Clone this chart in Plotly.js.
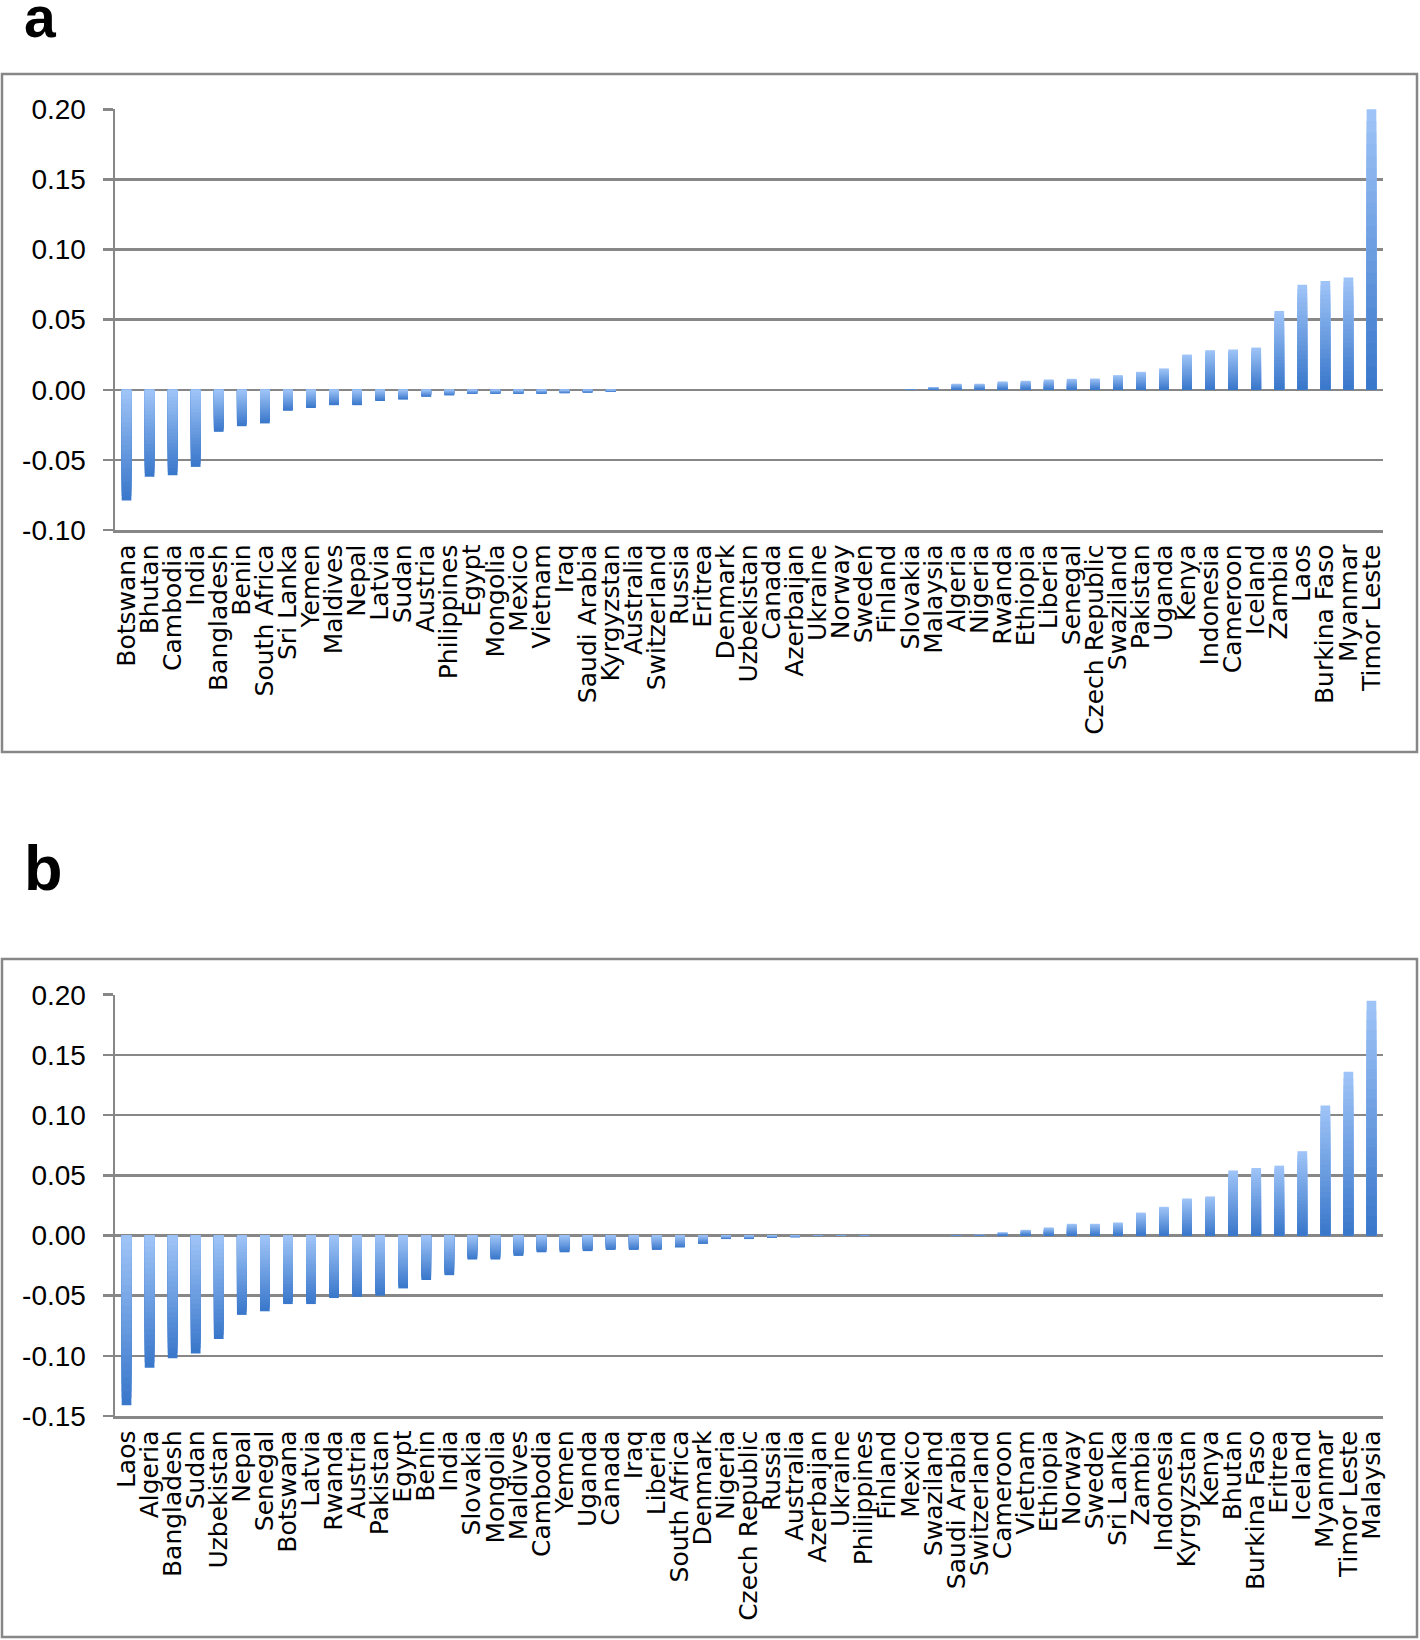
<!DOCTYPE html>
<html>
<head>
<meta charset="utf-8">
<script src="https://cdn.plot.ly/plotly-3.0.1.min.js"></script>
<style>html,body{margin:0;padding:0;background:#fff;}#chart{width:1420px;height:1640px;}</style>
</head>
<body>
<div id="chart"></div>
<script>
// ---------- DATA ----------
const countriesA = ["Botswana","Bhutan","Cambodia","India","Bangladesh","Benin","South Africa","Sri Lanka","Yemen","Maldives","Nepal","Latvia","Sudan","Austria","Philippines","Egypt","Mongolia","Mexico","Vietnam","Iraq","Saudi Arabia","Kyrgyzstan","Australia","Switzerland","Russia","Eritrea","Denmark","Uzbekistan","Canada","Azerbaijan","Ukraine","Norway","Sweden","Finland","Slovakia","Malaysia","Algeria","Nigeria","Rwanda","Ethiopia","Liberia","Senegal","Czech Republic","Swaziland","Pakistan","Uganda","Kenya","Indonesia","Cameroon","Iceland","Zambia","Laos","Burkina Faso","Myanmar","Timor Leste"];
const valuesA = [-0.079,-0.062,-0.061,-0.055,-0.030,-0.026,-0.024,-0.015,-0.013,-0.011,-0.011,-0.008,-0.007,-0.005,-0.004,-0.003,-0.003,-0.003,-0.003,-0.0025,-0.002,-0.0015,0,0,0,0,0,0,0,0,0,0,0,0,0.0004,0.0019,0.0043,0.0043,0.0059,0.0064,0.0073,0.0078,0.008,0.0104,0.0128,0.0152,0.0251,0.0282,0.0287,0.0301,0.0562,0.0749,0.0775,0.0801,0.200];

const countriesB = ["Laos","Algeria","Bangladesh","Sudan","Uzbekistan","Nepal","Senegal","Botswana","Latvia","Rwanda","Austria","Pakistan","Egypt","Benin","India","Slovakia","Mongolia","Maldives","Cambodia","Yemen","Uganda","Canada","Iraq","Liberia","South Africa","Denmark","Nigeria","Czech Republic","Russia","Australia","Azerbaijan","Ukraine","Philippines","Finland","Mexico","Swaziland","Saudi Arabia","Switzerland","Cameroon","Vietnam","Ethiopia","Norway","Sweden","Sri Lanka","Zambia","Indonesia","Kyrgyzstan","Kenya","Bhutan","Burkina Faso","Eritrea","Iceland","Myanmar","Timor Leste","Malaysia"];
const valuesB = [-0.141,-0.110,-0.102,-0.098,-0.086,-0.066,-0.063,-0.057,-0.057,-0.052,-0.051,-0.050,-0.044,-0.037,-0.033,-0.020,-0.020,-0.017,-0.014,-0.014,-0.013,-0.012,-0.012,-0.012,-0.010,-0.007,-0.003,-0.003,-0.002,-0.0015,-0.0005,-0.0004,-0.0003,0,0,0,0.0003,0.0005,0.0025,0.0047,0.0066,0.0097,0.0097,0.0108,0.019,0.0238,0.0307,0.0324,0.054,0.056,0.058,0.070,0.108,0.136,0.195];

const yTicksA = [-0.10,-0.05,0.00,0.05,0.10,0.15,0.20];
const yTickTextA = ["-0.10","-0.05","0.00","0.05","0.10","0.15","0.20"];
const yTicksB = [-0.15,-0.10,-0.05,0.00,0.05,0.10,0.15,0.20];
const yTickTextB = ["-0.15","-0.10","-0.05","0.00","0.05","0.10","0.15","0.20"];
const panelLabels = ["a","b"];

// ---------- STYLE ----------
const W = 1420, H = 1640;
const px = x => x / W;
const py = y => 1 - y / H;
const LIGHT = [160, 197, 248];
const DARK  = [56, 118, 202];
const GRID = "#878787";
const NB = 24; // gradient bands
function mix(a, b, t) {
  const c = a.map((v, i) => Math.round(v + (b[i] - v) * t));
  return "rgb(" + c.join(",") + ")";
}

function gradientBars(cats, vals, xa, ya) {
  const out = [];
  for (let k = 0; k < NB; k++) {
    const f = (NB - k) / NB;            // length fraction of this overlay
    const h = (NB - k - 0.5) / NB;      // relative position of the visible band
    out.push({
      type: "bar",
      x: cats,
      y: vals.map(v => v * f),
      width: 0.42,
      xaxis: xa, yaxis: ya,
      marker: {
        color: vals.map(v => v >= 0 ? mix(DARK, LIGHT, h) : mix(LIGHT, DARK, h)),
        line: {width: 0}
      },
      hoverinfo: k === 0 ? "x+y" : "skip",
      showlegend: false
    });
  }
  return out;
}

const data = [].concat(
  gradientBars(countriesA, valuesA, "x", "y"),
  gradientBars(countriesB, valuesB, "x2", "y2")
);

const xCommon = {
  type: "category",
  range: [-0.5, 54.5],
  tickangle: -90,
  ticks: "",
  tickmode: "array",
  showgrid: false,
  zeroline: false,
  showline: true,
  linecolor: GRID,
  linewidth: 2.5,
  tickfont: {family: "DejaVu Sans", size: 25, color: "#000"},
  ticklabelstandoff: 2,
  automargin: false,
  fixedrange: true
};
const yCommon = {
  tickmode: "array",
  ticks: "outside",
  ticklen: 10,
  tickwidth: 2.5,
  tickcolor: GRID,
  showgrid: true,
  gridcolor: GRID,
  gridwidth: 2.5,
  zeroline: false,
  showline: true,
  linecolor: GRID,
  linewidth: 2.5,
  tickfont: {family: "Liberation Sans", size: 28, color: "#000"},
  ticklabelstandoff: 11,
  automargin: false,
  fixedrange: true
};

const layout = {
  width: W, height: H,
  margin: {l: 0, r: 0, t: 0, b: 0},
  paper_bgcolor: "#fff",
  plot_bgcolor: "#fff",
  barmode: "overlay",
  showlegend: false,
  xaxis: Object.assign({}, xCommon, {domain: [px(115), px(1383)], anchor: "y",
    tickvals: countriesA, ticktext: countriesA}),
  yaxis: Object.assign({}, yCommon, {domain: [py(530), py(109)], anchor: "x",
    range: [-0.1, 0.2002], tickvals: yTicksA, ticktext: yTickTextA}),
  xaxis2: Object.assign({}, xCommon, {domain: [px(115), px(1383)], anchor: "y2",
    tickvals: countriesB, ticktext: countriesB}),
  yaxis2: Object.assign({}, yCommon, {domain: [py(1416), py(994.5)], anchor: "x2",
    range: [-0.15, 0.2002], tickvals: yTicksB, ticktext: yTickTextB}),
  shapes: [
    {type: "rect", xref: "paper", yref: "paper", x0: px(2), x1: px(1417), y0: py(752), y1: py(74),
     line: {color: GRID, width: 2.5}, fillcolor: "rgba(0,0,0,0)", layer: "below"},
    {type: "rect", xref: "paper", yref: "paper", x0: px(2), x1: px(1417), y0: py(1637), y1: py(959),
     line: {color: GRID, width: 2.5}, fillcolor: "rgba(0,0,0,0)", layer: "below"}
  ],
  annotations: [
    {text: "<b>" + panelLabels[0] + "</b>", xref: "paper", yref: "paper", x: px(22), y: py(17),
     xanchor: "left", yanchor: "middle", showarrow: false,
     font: {family: "Liberation Sans", size: 57, color: "#000"}},
    {text: "<b>" + panelLabels[1] + "</b>", xref: "paper", yref: "paper", x: px(22), y: py(868),
     xanchor: "left", yanchor: "middle", showarrow: false,
     font: {family: "Liberation Sans", size: 63, color: "#000"}}
  ]
};

Plotly.newPlot("chart", data, layout, {displayModeBar: false, staticPlot: true});
</script>
</body>
</html>
